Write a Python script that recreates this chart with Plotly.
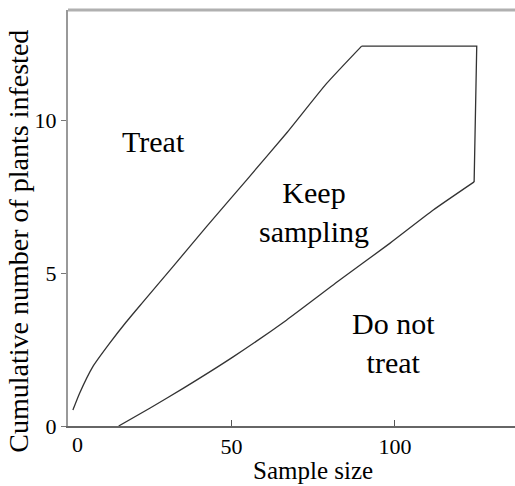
import plotly.graph_objects as go

# Decision boundaries
upper_x = [1.5, 3.55, 7.6, 12.7, 17.8, 22.9, 32.1, 42.3, 54.6, 66.8, 79.1, 89.8]
upper_y = [0.52, 1.07, 1.94, 2.70, 3.40, 4.05, 5.21, 6.51, 8.04, 9.57, 11.2, 12.42]
edge_x = [89.8, 125.0, 124.2]
edge_y = [12.42, 12.42, 7.98]
lower_x = [124.2, 111.7, 98.4, 83.1, 66.8, 50.5, 35.2, 25.0, 15.5]
lower_y = [7.98, 7.06, 5.97, 4.77, 3.46, 2.26, 1.23, 0.58, 0.0]

x_ticks = [0, 50, 100]
x_tick_labels = ["0", "50", "100"]
y_ticks = [0, 5, 10]
y_tick_labels = ["0", "5", "10"]

region_labels = ["Treat", "Keep<br>sampling", "Do not<br>treat"]
region_x = [26.0, 75.2, 99.4]
region_y = [9.3, 6.98, 2.7]

x_title = "Sample size"
y_title = "Cumulative number of plants infested"

FONT = "Liberation Serif"
INK = "#000000"
LINE = dict(color="#333333", width=1.3)

fig = go.Figure()
fig.add_trace(go.Scatter(x=upper_x, y=upper_y, mode="lines",
                         line=dict(shape="spline", smoothing=0.5, **LINE),
                         showlegend=False, hoverinfo="skip"))
fig.add_trace(go.Scatter(x=edge_x, y=edge_y, mode="lines", line=LINE,
                         showlegend=False, hoverinfo="skip"))
fig.add_trace(go.Scatter(x=lower_x, y=lower_y, mode="lines",
                         line=dict(shape="spline", smoothing=0.5, **LINE),
                         showlegend=False, hoverinfo="skip"))

for t, xx, yy in zip(region_labels, region_x, region_y):
    fig.add_annotation(x=xx, y=yy, text=t, showarrow=False,
                       font=dict(family=FONT, size=30, color=INK),
                       xanchor="center", yanchor="middle")

# x "0" label sits a little right of the axis corner in the original
fig.add_annotation(x=x_ticks[0], y=0, yref="paper", text=x_tick_labels[0], showarrow=False,
                   xshift=9, yshift=-4, xanchor="center", yanchor="top",
                   font=dict(family=FONT, size=22, color=INK))

fig.add_annotation(x=0.548, y=-0.108, xref="paper", yref="paper", text=x_title,
                   showarrow=False, xanchor="center", yanchor="middle",
                   font=dict(family=FONT, size=25, color=INK))
fig.add_annotation(x=-0.11, y=0.445, xref="paper", yref="paper", text=y_title,
                   showarrow=False, textangle=-90, xanchor="center", yanchor="middle",
                   font=dict(family=FONT, size=28, color=INK))

fig.add_shape(type="line", xref="paper", yref="paper", x0=0, x1=1, y0=1, y1=1,
              line=dict(color="#b0b0b0", width=3))

fig.update_layout(
    width=515, height=486,
    margin=dict(l=68, r=0, t=10, b=60),
    paper_bgcolor="white", plot_bgcolor="white",
    font=dict(family=FONT, size=22, color=INK),
    xaxis=dict(range=[0, 136.7], tickvals=x_ticks,
               ticktext=[""] + x_tick_labels[1:],
               ticks="inside", ticklen=6, tickcolor="#555555",
               showline=True, linecolor="#666666", linewidth=2,
               showgrid=False, zeroline=False,
               tickfont=dict(family=FONT, size=22, color=INK)),
    yaxis=dict(range=[0, 13.6], tickvals=y_ticks, ticktext=y_tick_labels,
               ticks="outside", ticklen=5, tickcolor="#777777",
               showline=True, linecolor="#999999", linewidth=2,
               showgrid=False, zeroline=False,
               tickfont=dict(family=FONT, size=22, color=INK)),
)

fig.write_html("out.html")
